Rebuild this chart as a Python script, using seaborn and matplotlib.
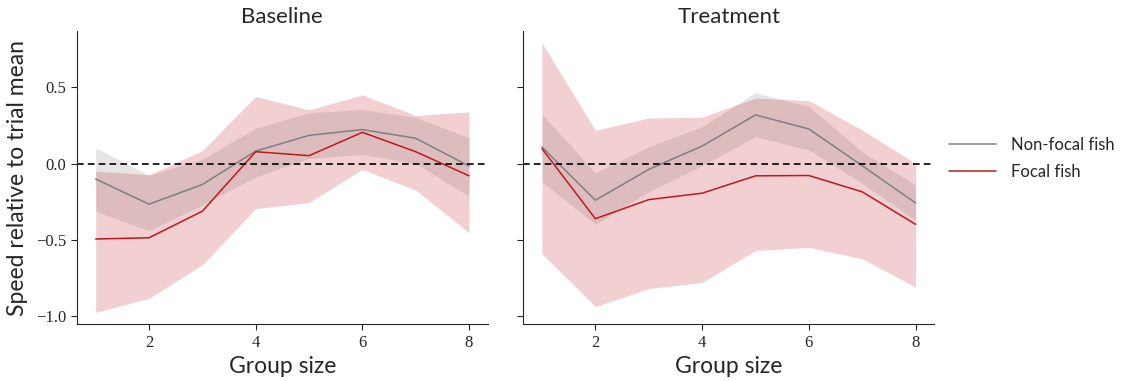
import numpy as np
import pandas as pd
import matplotlib
matplotlib.use("Agg")
import matplotlib.pyplot as plt
import seaborn as sns

# Group sizes on the x axis
group_size = [1, 2, 3, 4, 5, 6, 7, 8]

# Baseline condition: mean speed and interval bounds
base_nonfocal = [-0.10, -0.265, -0.136, 0.083, 0.186, 0.224, 0.167, -0.015]
base_nonfocal_hi = [0.105, -0.075, 0.03, 0.232, 0.335, 0.355, 0.305, 0.171]
base_nonfocal_lo = [-0.311, -0.439, -0.27, -0.086, 0.035, 0.061, 0.002, -0.213]
base_focal = [-0.493, -0.485, -0.311, 0.079, 0.053, 0.206, 0.079, -0.079]
base_focal_hi = [-0.048, -0.072, 0.086, 0.441, 0.353, 0.452, 0.316, 0.340]
base_focal_lo = [-0.974, -0.882, -0.662, -0.294, -0.254, -0.037, -0.173, -0.452]

# Treatment condition: mean speed and interval bounds
treat_nonfocal = [0.11, -0.239, -0.037, 0.116, 0.320, 0.228, -0.013, -0.257]
treat_nonfocal_hi = [0.325, -0.059, 0.112, 0.243, 0.467, 0.375, 0.079, -0.140]
treat_nonfocal_lo = [-0.118, -0.397, -0.184, -0.013, 0.178, 0.09, -0.129, -0.371]
treat_focal = [0.099, -0.36, -0.235, -0.193, -0.079, -0.077, -0.184, -0.397]
treat_focal_hi = [0.792, 0.219, 0.30, 0.305, 0.43, 0.414, 0.221, 0.002]
treat_focal_lo = [-0.59, -0.936, -0.818, -0.778, -0.568, -0.548, -0.623, -0.809]

panels = ["Baseline", "Treatment"]
series_names = ["Non-focal fish", "Focal fish"]
colors = {"Non-focal fish": "#808080", "Focal fish": "#c0181e"}

data = {
    "Baseline": {
        "Non-focal fish": (base_nonfocal, base_nonfocal_lo, base_nonfocal_hi),
        "Focal fish": (base_focal, base_focal_lo, base_focal_hi),
    },
    "Treatment": {
        "Non-focal fish": (treat_nonfocal, treat_nonfocal_lo, treat_nonfocal_hi),
        "Focal fish": (treat_focal, treat_focal_lo, treat_focal_hi),
    },
}

sns.set_style("ticks")
sans = ["Lato", "DejaVu Sans"]
serif = ["Liberation Serif", "DejaVu Serif"]

fig = plt.figure(figsize=(11.26, 3.81), dpi=100)
ax1 = fig.add_axes([77 / 1126, 1 - 324.3 / 381, (487.7 - 77) / 1126, (324.3 - 31) / 381])
ax2 = fig.add_axes([523.3 / 1126, 1 - 324.3 / 381, (934.3 - 523.3) / 1126, (324.3 - 31) / 381],
                   sharey=ax1)
axes = [ax1, ax2]

for ax, panel in zip(axes, panels):
    for name in series_names:
        mean, lo, hi = data[panel][name]
        ax.fill_between(group_size, lo, hi, color=colors[name], alpha=0.2, linewidth=0)
        df = pd.DataFrame({"Group size": group_size, "speed": mean})
        sns.lineplot(data=df, x="Group size", y="speed", ax=ax, color=colors[name],
                     linewidth=1.1, label=name if panel == "Treatment" else None)
    ax.axhline(0, color="black", linestyle="--", linewidth=1.2, dashes=(4, 2.5))
    ax.set_title(panel, fontsize=16, family=sans, pad=6)
    ax.set_xlabel("Group size", fontsize=16.5, family=sans, labelpad=4)
    ax.set_xticks([2, 4, 6, 8])
    ax.set_yticks([-1.0, -0.5, 0.0, 0.5])
    ax.tick_params(labelsize=12, length=4, width=0.8)
    for lab in ax.get_xticklabels() + ax.get_yticklabels():
        lab.set_family(serif)
    sns.despine(ax=ax)

ax1.set_ylabel("Speed relative to trial mean", fontsize=16.5, family=sans, labelpad=6)
ax2.set_ylabel("")
plt.setp(ax2.get_yticklabels(), visible=False)
ax1.set_xlim(0.65, 8.35)
ax2.set_xlim(0.65, 8.35)
ax1.set_ylim(-1.052, 0.87)

if ax1.get_legend() is not None:
    ax1.get_legend().remove()
leg = ax2.legend(loc="center left", bbox_to_anchor=(1.0, 0.565), frameon=False,
                 prop={"family": sans, "size": 12}, handlelength=2.8,
                 labelspacing=0.65, handletextpad=0.9)

fig.savefig("out.png", dpi=100)
